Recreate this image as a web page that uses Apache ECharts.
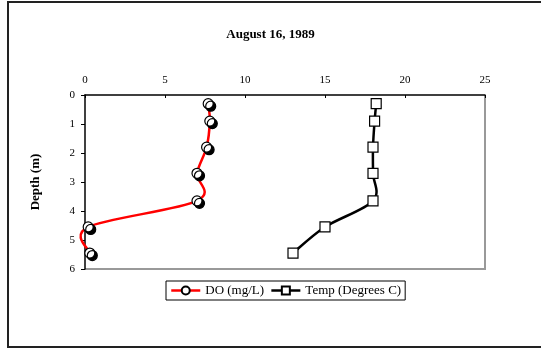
<!DOCTYPE html>
<html>
<head>
<meta charset="utf-8">
<script src="https://cdn.jsdelivr.net/npm/echarts@6/dist/echarts.min.js"></script>
<style>
  html, body { margin: 0; padding: 0; background: #fff; }
  #chart { width: 541px; height: 351px; }
</style>
</head>
<body>
<div id="chart"></div>
<script>
// Depth profile, August 16, 1989
const depths = [0.3, 0.9, 1.8, 2.7, 3.65, 4.55, 5.45];
const doValues = [7.7, 7.8, 7.6, 7.0, 7.0, 0.2, 0.3];
const tempValues = [18.2, 18.1, 18.0, 18.0, 18.0, 15.0, 13.0];
const xTicks = [0, 5, 10, 15, 20, 25];
const yTicks = [0, 1, 2, 3, 4, 5, 6];

const serif = '"Liberation Serif", "DejaVu Serif", serif';

const pairs = (vals) => vals.map((v, i) => [v, depths[i]]);

// Smooth curve through the pixel positions of the points (Catmull-Rom -> cubic Bezier),
// allowing the curve to overshoot between points like a spreadsheet smoothed line.
function smoothPath(pts) {
  let d = 'M' + pts[0][0] + ' ' + pts[0][1];
  for (let i = 0; i < pts.length - 1; i++) {
    const p0 = pts[Math.max(i - 1, 0)];
    const p1 = pts[i];
    const p2 = pts[i + 1];
    const p3 = pts[Math.min(i + 2, pts.length - 1)];
    const c1 = [p1[0] + (p2[0] - p0[0]) / 6, p1[1] + (p2[1] - p0[1]) / 6];
    const c2 = [p2[0] - (p3[0] - p1[0]) / 6, p2[1] - (p3[1] - p1[1]) / 6];
    d += ' C' + c1[0] + ' ' + c1[1] + ' ' + c2[0] + ' ' + c2[1] + ' ' + p2[0] + ' ' + p2[1];
  }
  return d;
}

function curveSeries(name, vals, color) {
  return {
    name: name,
    type: 'custom',
    coordinateSystem: 'cartesian2d',
    data: [[vals[0], depths[0]]],
    silent: true,
    z: 2,
    renderItem: function (params, api) {
      const pts = pairs(vals).map((p) => api.coord(p));
      return {
        type: 'path',
        shape: { pathData: smoothPath(pts) },
        style: { fill: 'none', stroke: color, lineWidth: 2.5 }
      };
    }
  };
}

const chart = echarts.init(document.getElementById('chart'), null, { renderer: 'canvas' });

chart.setOption({
  backgroundColor: '#fff',
  animation: false,
  title: {
    text: 'August 16, 1989',
    left: 'center',
    top: 23,
    textStyle: { fontFamily: serif, fontSize: 13, fontWeight: 'bold', color: '#000' }
  },
  graphic: [{
    type: 'rect',
    shape: { x: 8, y: 2, width: 560, height: 345 },
    style: { fill: 'none', stroke: '#222', lineWidth: 2 },
    silent: true,
    z: -1
  }, {
    type: 'polyline',
    shape: { points: [[485, 95], [485, 269], [85, 269]] },
    style: { stroke: '#999', lineWidth: 2, fill: 'none' },
    silent: true,
    z: -1
  }],
  grid: { left: 85, top: 95, width: 400, height: 174 },
  xAxis: {
    type: 'value',
    position: 'top',
    min: xTicks[0],
    max: xTicks[xTicks.length - 1],
    interval: 5,
    axisLine: { show: true, lineStyle: { color: '#000', width: 1.5 } },
    axisTick: { show: true, inside: true, length: 3, lineStyle: { color: '#000' } },
    axisLabel: { fontFamily: serif, fontSize: 11, color: '#000', margin: 9 },
    splitLine: { show: false }
  },
  yAxis: {
    type: 'value',
    inverse: true,
    min: yTicks[0],
    max: yTicks[yTicks.length - 1],
    interval: 1,
    name: 'Depth (m)',
    nameLocation: 'middle',
    nameRotate: 90,
    nameGap: 43,
    nameTextStyle: { fontFamily: serif, fontSize: 13, fontWeight: 'bold', color: '#000' },
    axisLine: { show: true, lineStyle: { color: '#000', width: 1.5 } },
    axisTick: { show: true, length: 4, lineStyle: { color: '#000' } },
    axisLabel: { fontFamily: serif, fontSize: 11, color: '#000', margin: 10 },
    splitLine: { show: false }
  },
  legend: {
    left: 166,
    top: 281,
    padding: [3, 4, 3, 4],
    itemGap: 6,
    itemWidth: 29,
    itemHeight: 10,
    borderColor: '#000',
    borderWidth: 1,
    borderRadius: 0,
    textStyle: { fontFamily: serif, fontSize: 13, color: '#000' },
    data: [
      { name: 'DO (mg/L)', lineStyle: { color: '#ff0000', width: 2.5, opacity: 1 } },
      { name: 'Temp (Degrees C)', lineStyle: { color: '#000', width: 2.5, opacity: 1 } }
    ]
  },
  series: [
    curveSeries('DO curve', doValues, '#ff0000'),
    curveSeries('Temp curve', tempValues, '#000'),
    {
      name: 'DO (mg/L)',
      type: 'line',
      data: pairs(doValues),
      symbol: 'circle',
      symbolSize: 10,
      lineStyle: { color: '#ff0000', width: 2.5, opacity: 0 },
      itemStyle: {
        color: '#fff', borderColor: '#000', borderWidth: 1.2,
        shadowColor: '#000', shadowBlur: 0, shadowOffsetX: 2.5, shadowOffsetY: 2.5
      },
      z: 4
    }, {
      name: 'Temp (Degrees C)',
      type: 'line',
      data: pairs(tempValues),
      symbol: 'rect',
      symbolSize: 10,
      lineStyle: { color: '#000', width: 2.5, opacity: 0 },
      itemStyle: { color: '#fff', borderColor: '#000', borderWidth: 1.2 },
      z: 4
    }
  ]
});
</script>
</body>
</html>
